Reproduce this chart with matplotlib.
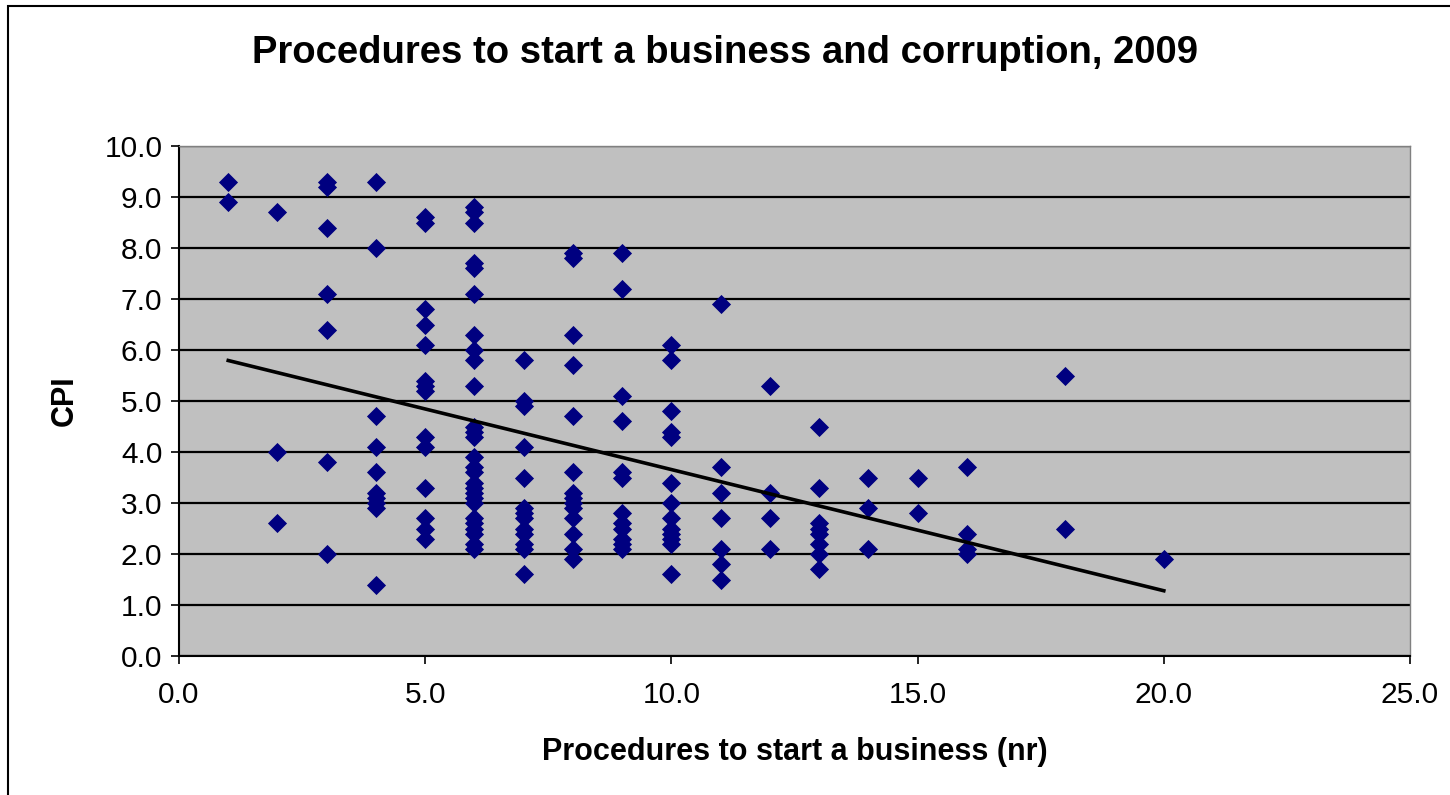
import numpy as np
import matplotlib
matplotlib.use("Agg")
import matplotlib.pyplot as plt
from matplotlib.patches import Rectangle

plt.rcParams['font.family'] = ['Liberation Sans', 'DejaVu Sans']

# number of procedures -> CPI values
cpi_by_procedures = {
    1: [9.3, 8.9],
    2: [8.7, 4.0, 2.6],
    3: [9.3, 9.2, 8.4, 7.1, 6.4, 3.8, 2.0],
    4: [9.3, 8.0, 4.7, 4.1, 3.6, 3.2, 3.1, 3.0, 2.9, 1.4],
    5: [8.6, 8.5, 6.8, 6.5, 6.1, 5.4, 5.3, 5.2, 4.3, 4.1, 3.3, 2.7, 2.5, 2.3],
    6: [8.8, 8.7, 8.5, 7.7, 7.6, 7.1, 6.3, 6.0, 5.8, 5.3, 4.5, 4.4, 4.3,
        3.9, 3.7, 3.6, 3.4, 3.3, 3.2, 3.1, 3.0, 2.7, 2.6, 2.5, 2.4, 2.2, 2.1],
    7: [5.8, 5.0, 4.9, 4.1, 3.5, 2.9, 2.8, 2.7, 2.5, 2.4, 2.2, 2.1, 1.6],
    8: [7.9, 7.8, 6.3, 5.7, 4.7, 3.6, 3.2, 3.1, 3.0, 2.9, 2.7, 2.4, 2.1, 1.9],
    9: [7.9, 7.2, 5.1, 4.6, 3.6, 3.5, 2.8, 2.6, 2.5, 2.3, 2.2, 2.1],
    10: [6.1, 5.8, 4.8, 4.4, 4.3, 3.4, 3.0, 2.7, 2.5, 2.4, 2.3, 2.2, 1.6],
    11: [6.9, 3.7, 3.2, 2.7, 2.1, 1.8, 1.5],
    12: [5.3, 3.2, 2.7, 2.1],
    13: [4.5, 3.3, 2.6, 2.5, 2.4, 2.2, 2.0, 1.7],
    14: [3.5, 2.9, 2.1],
    15: [3.5, 2.8],
    16: [3.7, 2.4, 2.1, 2.0],
    18: [5.5, 2.5],
    20: [1.9],
}

procedures = np.array([k for k, v in cpi_by_procedures.items() for _ in v], dtype=float)
cpi = np.array([c for v in cpi_by_procedures.values() for c in v])

title = "Procedures to start a business and corruption, 2009"
xlabel = "Procedures to start a business (nr)"
ylabel = "CPI"

fig = plt.figure(figsize=(14.5, 7.95), dpi=100)
ax = fig.add_axes([179 / 1450, 1 - 656 / 795, (1410 - 179) / 1450, (656 - 146) / 795])

# outer chart border
fig.patches.append(Rectangle((8 / 1450, -0.05), 1.1, 1 - 6 / 795 + 0.05,
                             transform=fig.transFigure, fill=False,
                             edgecolor='black', linewidth=1.5))

ax.set_facecolor('#C0C0C0')
ax.set_xlim(0, 25)
ax.set_ylim(0, 10)
ax.set_xticks(np.arange(0, 26, 5))
ax.set_yticks(np.arange(0, 11, 1))
ax.xaxis.set_major_formatter(matplotlib.ticker.FormatStrFormatter('%.1f'))
ax.yaxis.set_major_formatter(matplotlib.ticker.FormatStrFormatter('%.1f'))
ax.grid(axis='y', color='black', linewidth=1.6)
ax.set_axisbelow(True)

for s in ['top', 'right']:
    ax.spines[s].set_color('#808080')
    ax.spines[s].set_linewidth(1)
for s in ['left', 'bottom']:
    ax.spines[s].set_color('black')
    ax.spines[s].set_linewidth(1.5)

ax.tick_params(direction='out', length=6, width=1.2, labelsize=21.5, pad=6)
ax.tick_params(axis='x', pad=12)

ax.scatter(procedures, cpi, marker='D', s=95, color='#000080', zorder=3, linewidths=0)

# linear trend line
slope, intercept = np.polyfit(procedures, cpi, 1)
xs = np.array([procedures.min(), procedures.max()])
ax.plot(xs, slope * xs + intercept, color='black', linewidth=2.6, zorder=4)

fig.text(0.5, 1 - 53 / 795, title, ha='center', va='center', fontsize=27.5, fontweight='bold')
ax.set_xlabel(xlabel, fontsize=22, fontweight='bold', labelpad=20)
ax.set_ylabel(ylabel, fontsize=22, fontweight='bold', labelpad=18)

fig.savefig('out.png', dpi=100)
